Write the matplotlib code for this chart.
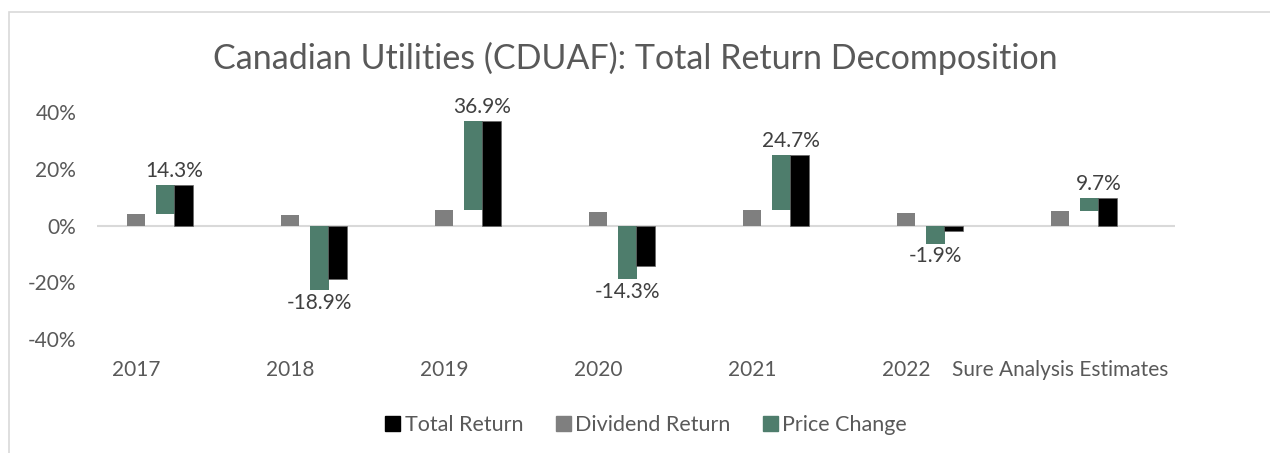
import numpy as np
import matplotlib
matplotlib.use('Agg')
import matplotlib.pyplot as plt
from matplotlib.patches import Rectangle

# --- data (percent) ---
CATEGORIES = ['2017', '2018', '2019', '2020', '2021', '2022', 'Sure Analysis Estimates']
DIVIDEND_RETURN = [4.1, 3.8, 5.5, 4.6, 5.5, 4.5, 5.2]
PRICE_CHANGE = [10.2, -22.7, 31.4, -18.9, 19.2, -6.4, 4.5]
TOTAL_RETURN = [14.3, -18.9, 36.9, -14.3, 24.7, -1.9, 9.7]
Y_TICKS = [-40, -20, 0, 20, 40]

GRAY = '#7f7f7f'
GREEN = '#4e7d6c'
TEXT = '#595959'
LABEL = '#404040'

plt.rcParams['font.family'] = ['Lato', 'DejaVu Sans']


def main():
    fig = plt.figure(figsize=(12.7, 4.53), dpi=100)
    W, H = 1270, 453
    ax = fig.add_axes([97 / W, 1 - 339 / H, (1175 - 97) / W, (339 - 112) / H])

    # chart border
    fig.patches.append(Rectangle((9 / W, -0.05), 1.2, 1 - 12 / H + 0.05, transform=fig.transFigure,
                                 fill=False, edgecolor='#d9d9d9', linewidth=1.2))

    x = np.arange(len(CATEGORIES))
    bw = 0.118
    div = np.array(DIVIDEND_RETURN)
    pc = np.array(PRICE_CHANGE)
    tot = np.array(TOTAL_RETURN)

    # green bar floats on top of dividend when positive, hangs from 0 when negative
    green_bottom = np.where(pc >= 0, div, 0)

    ax.bar(x + 0.253, div, width=bw, color=GRAY, zorder=3)
    ax.bar(x + 0.445, pc, width=bw, bottom=green_bottom, color=GREEN, zorder=3)
    ax.bar(x + 0.562, tot, width=bw, color='black', edgecolor='#666666', linewidth=0.5, zorder=3)

    ax.axhline(0, color='#d9d9d9', linewidth=1.5, zorder=1)

    for i in range(len(CATEGORIES)):
        if tot[i] >= 0:
            ax.annotate(f"{tot[i]:.1f}%", (x[i] + 0.503, tot[i]), xytext=(0, 3),
                        textcoords='offset points', ha='center', va='bottom',
                        fontsize=15, color=LABEL)
        else:
            ax.annotate(f"{tot[i]:.1f}%", (x[i] + 0.445, green_bottom[i] + pc[i]), xytext=(0, -2),
                        textcoords='offset points', ha='center', va='top',
                        fontsize=15, color=LABEL)

    ax.set_xlim(0, len(CATEGORIES))
    ax.set_ylim(-40, 40)
    ax.set_yticks(Y_TICKS)
    ax.set_yticklabels([f"{t}%" for t in Y_TICKS])
    ax.set_xticks(x + 0.253)
    ax.set_xticklabels(CATEGORIES)
    ax.tick_params(axis='both', length=0, labelsize=15, labelcolor=TEXT)
    ax.tick_params(axis='x', pad=15)
    ax.tick_params(axis='y', pad=15)
    for s in ax.spines.values():
        s.set_visible(False)

    fig.text(0.5, 1 - 58 / H, 'Canadian Utilities (CDUAF): Total Return Decomposition',
             ha='center', va='center', fontsize=24.5, color=TEXT)

    handles = [Rectangle((0, 0), 1, 1, color='black'),
               Rectangle((0, 0), 1, 1, color=GRAY),
               Rectangle((0, 0), 1, 1, color=GREEN)]
    fig.legend(handles, ['Total Return', 'Dividend Return', 'Price Change'],
               loc='center', bbox_to_anchor=(646 / W, 1 - 425 / H), ncol=3, frameon=False,
               fontsize=15.5, labelcolor=TEXT, handlelength=0.7, handleheight=0.7,
               handletextpad=0.2, columnspacing=1.5)

    fig.savefig('out.png', dpi=100)


if __name__ == '__main__':
    main()
